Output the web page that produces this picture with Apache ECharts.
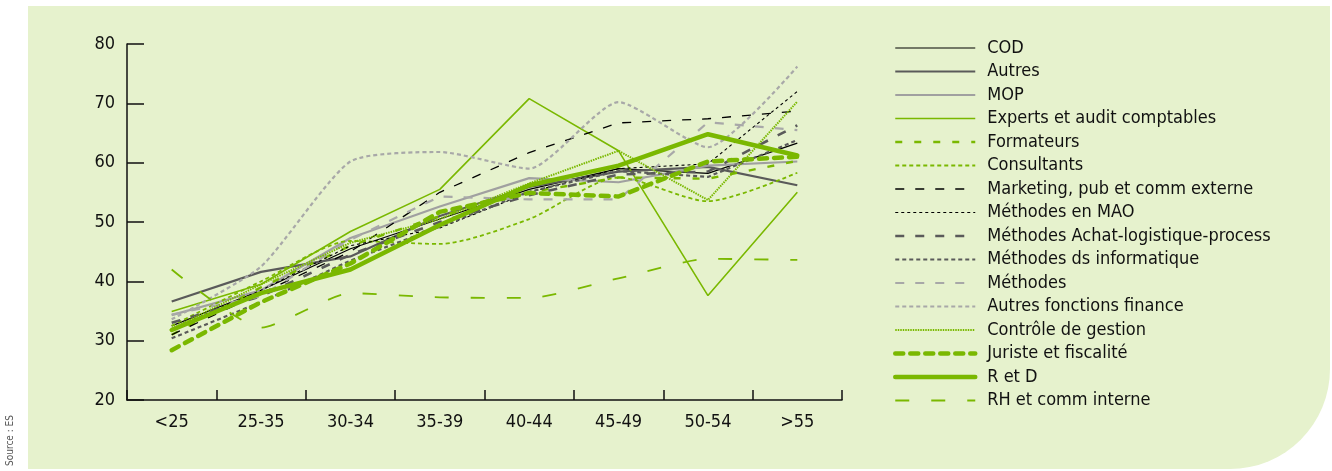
<!DOCTYPE html>
<html><head><meta charset="utf-8">
<script src="https://cdn.jsdelivr.net/npm/echarts@6/dist/echarts.min.js"></script>
<style>html,body{margin:0;padding:0;background:#fff}#c{width:1332px;height:471px}</style>
</head><body><div id="c"></div>
<script>
var categories = ['<25','25-35','30-34','35-39','40-44','45-49','50-54','>55'];
var yTicks = [20,30,40,50,60,70,80];
var seriesNames = ['COD','Autres','MOP','Experts et audit comptables','Formateurs','Consultants','Marketing, pub et comm externe','Méthodes en MAO','Méthodes Achat-logistique-process','Méthodes ds informatique','Méthodes','Autres fonctions finance','Contrôle de gestion','Juriste et fiscalité','R et D','RH et comm interne'];
var COD        = [32.5, 38.5, 45.5, 50.5, 55.5, 59.0, 58.2, 63.3];
var Autres     = [36.6, 41.6, 44.2, 51.0, 55.9, 58.5, 59.3, 56.2];
var MOP        = [34.3, 38.5, 47.3, 52.6, 57.4, 56.7, 59.5, 60.2];
var Experts    = [34.9, 39.5, 48.4, 55.5, 70.8, 62.0, 37.6, 55.0];
var Formateurs = [31.0, 39.0, 46.0, 51.0, 55.0, 57.5, 57.3, 60.3];
var Consultants= [32.5, 40.0, 46.8, 46.3, 50.5, 57.5, 53.5, 58.3];
var Marketing  = [31.0, 38.0, 45.0, 55.0, 61.7, 66.7, 67.4, 68.7];
var MAO        = [32.0, 38.5, 46.0, 49.0, 55.0, 59.0, 59.8, 72.0];
var Achat      = [33.0, 37.5, 44.5, 50.0, 54.5, 58.0, 58.5, 66.3];
var DsInfo     = [30.4, 36.5, 43.5, 49.2, 55.1, 58.6, 57.6, 63.8];
var Methodes   = [34.4, 37.5, 47.0, 54.3, 53.8, 53.8, 66.8, 65.5];
var AutresFin  = [33.6, 42.5, 60.2, 61.8, 59.0, 70.2, 62.6, 76.2];
var Controle   = [32.0, 39.5, 46.5, 50.5, 56.5, 62.0, 53.7, 70.3];
var Juriste    = [28.4, 36.5, 43.0, 51.7, 54.9, 54.3, 60.2, 61.0];
var RetD       = [31.8, 38.0, 42.0, 49.5, 56.2, 59.5, 64.8, 61.2];
var RH         = [42.0, 32.2, 38.0, 37.3, 37.2, 40.5, 43.8, 43.6];

var dataList = [COD,Autres,MOP,Experts,Formateurs,Consultants,Marketing,MAO,Achat,DsInfo,Methodes,AutresFin,Controle,Juriste,RetD,RH];
var G = '#7ab800';
var styles = [
  {color:'#000', width:1.2, type:'solid'},
  {color:'#5a5a5a', width:2.2, type:'solid'},
  {color:'#a0a0a0', width:2.2, type:'solid'},
  {color:G, width:1.6, type:'solid'},
  {color:G, width:2.4, type:[7,12]},
  {color:G, width:1.8, type:[4,3]},
  {color:'#000', width:1.3, type:[9,11]},
  {color:'#000', width:1.1, type:[3,3]},
  {color:'#5a5a5a', width:2.6, type:[9,11]},
  {color:'#5a5a5a', width:2.2, type:[4,3]},
  {color:'#a8a8a8', width:2.2, type:[9,11]},
  {color:'#a8a8a8', width:2.2, type:[4,3]},
  {color:G, width:2, type:[1.5,1]},
  {color:G, width:4.5, type:[8,7], cap:'round'},
  {color:G, width:4.5, type:'solid', cap:'round'},
  {color:G, width:1.8, type:[14,22]}
];
var smoothSet = {5:0.25, 11:0.2, 15:0.2};
var FONT = '"DejaVu Sans Condensed", "DejaVu Sans", sans-serif';

var series = seriesNames.map(function(n,i){
  var s = styles[i];
  return {
    name:n, type:'line', data:dataList[i], symbol:'none', showSymbol:false,
    smooth: smoothSet[i] || false,
    lineStyle:{color:s.color, width:s.width, type:s.type, cap:s.cap||'butt'},
    itemStyle:{color:s.color},
    z: 2 + i
  };
});
var legendData = seriesNames.map(function(n,i){
  var s = styles[i];
  return {name:n, lineStyle:{color:s.color, width:s.width, type:s.type, cap:s.cap||'butt'}, itemStyle:{opacity:0}};
});

var chart = echarts.init(document.getElementById('c'), null, {renderer:'canvas'});
chart.setOption({
  animation:false,
  backgroundColor:'#ffffff',
  graphic:[
    {type:'rect', z:-10, silent:true, shape:{x:28, y:6, width:1302, height:463, r:[0,0,100,0]}, style:{fill:'#e6f2cd'}},
    {type:'text', z:5, x:10, y:466, rotation:Math.PI/2, style:{text:'Source : ES', fill:'#555', font:'10px ' + FONT, align:'left', verticalAlign:'middle'}}
  ],
  grid:{left:127, right:490, top:44, bottom:71, containLabel:false},
  xAxis:{
    type:'category', data:categories, boundaryGap:true,
    axisLine:{lineStyle:{color:'#111', width:1.5}},
    axisTick:{show:true, inside:true, length:10, alignWithLabel:false, lineStyle:{color:'#111', width:1.5}},
    axisLabel:{color:'#111', fontSize:18, margin:13, fontFamily:FONT},
    splitLine:{show:false}
  },
  yAxis:{
    type:'value', min:20, max:80, interval:10,
    axisLine:{show:true, lineStyle:{color:'#111', width:1.5}},
    axisTick:{show:true, inside:true, length:17, lineStyle:{color:'#111', width:1.5}},
    axisLabel:{color:'#111', fontSize:18, margin:12, fontFamily:FONT,
      formatter:function(v){ return yTicks.indexOf(v)>=0 ? String(v) : ''; }},
    splitLine:{show:false}
  },
  legend:{
    orient:'vertical', left:888, top:34, itemWidth:80, itemHeight:14, itemGap:5.5,
    itemStyle:{opacity:0},
    textStyle:{color:'#111', fontSize:18, padding:[0,0,0,7], fontFamily:FONT},
    data:legendData
  },
  series:series
});
</script></body></html>
